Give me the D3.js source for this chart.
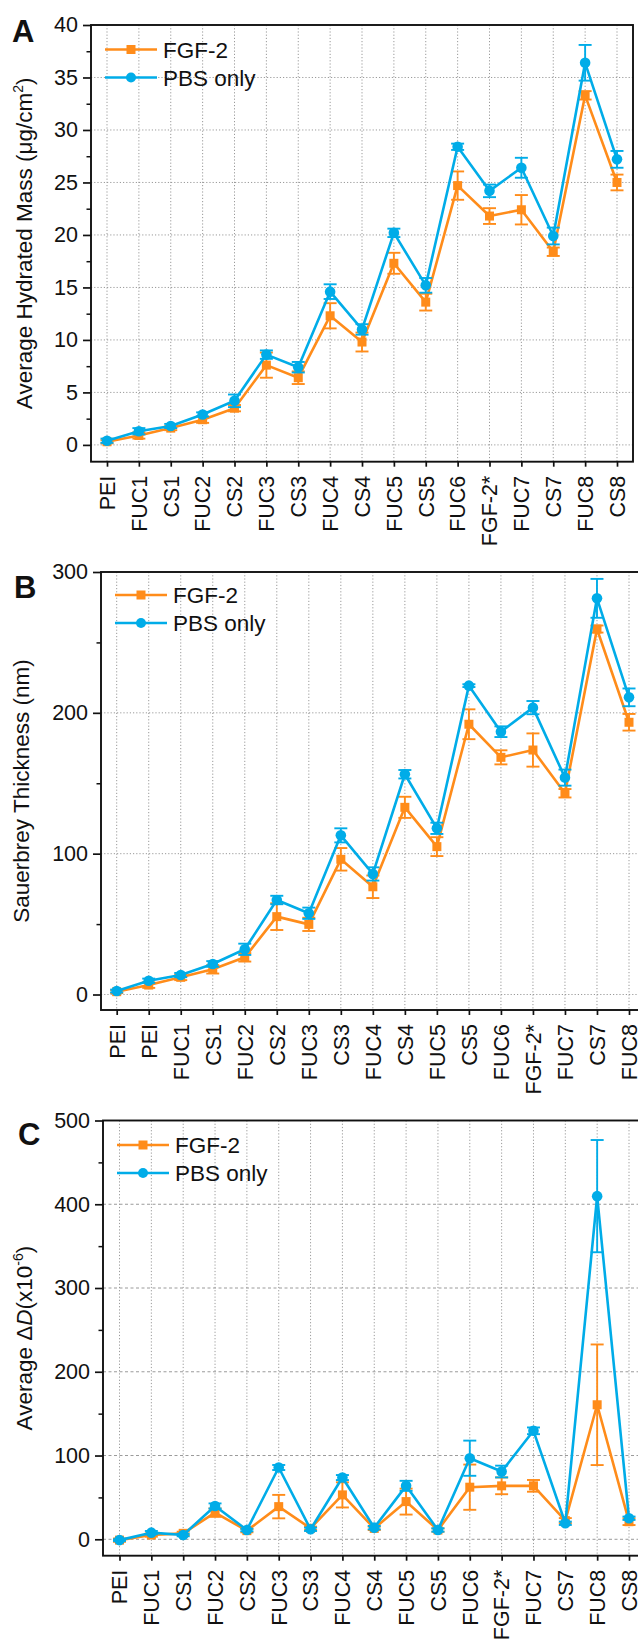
<!DOCTYPE html>
<html>
<head>
<meta charset="utf-8">
<script src="https://cdn.jsdelivr.net/npm/d3@7"></script>
<style>
  html, body { margin: 0; padding: 0; background: #fff; }
  svg { display: block; font-family: "Liberation Sans", Arial, sans-serif; }
</style>
</head>
<body>
<svg id="fig" width="638" height="1640"></svg>
<script>
// ---- categories ----
const layersA = ["PEI","FUC1","CS1","FUC2","CS2","FUC3","CS3","FUC4","CS4","FUC5","CS5","FUC6","FGF-2*","FUC7","CS7","FUC8","CS8"];
const layersB = ["PEI","PEI","FUC1","CS1","FUC2","CS2","FUC3","CS3","FUC4","CS4","FUC5","CS5","FUC6","FGF-2*","FUC7","CS7","FUC8"];
const layersC = ["PEI","FUC1","CS1","FUC2","CS2","FUC3","CS3","FUC4","CS4","FUC5","CS5","FUC6","FGF-2*","FUC7","CS7","FUC8","CS8"];

// ---- A: average hydrated mass (µg/cm²) ----
const massFGF    = [0.3, 0.9, 1.6, 2.4, 3.5, 7.6, 6.4, 12.3, 9.8, 17.3, 13.6, 24.7, 21.8, 22.4, 18.4, 33.3, 25.0];
const massFGFErr = [0.15, 0.3, 0.2, 0.3, 0.3, 1.2, 0.6, 1.2, 0.9, 1.0, 0.8, 1.35, 0.75, 1.4, 0.4, 0.4, 0.75];
const massPBS    = [0.4, 1.3, 1.8, 2.9, 4.2, 8.6, 7.4, 14.6, 11.0, 20.2, 15.2, 28.4, 24.2, 26.4, 19.9, 36.4, 27.2];
const massPBSErr = [0.2, 0.3, 0.2, 0.2, 0.6, 0.4, 0.5, 0.7, 0.5, 0.4, 0.7, 0.3, 0.6, 0.95, 0.8, 1.7, 0.8];
const massTicks  = [0, 5, 10, 15, 20, 25, 30, 35, 40];

// ---- B: Sauerbrey thickness (nm) ----
const thickFGF    = [2, 6.7, 12.2, 17.9, 26.4, 55.3, 49.8, 96, 76.5, 132.9, 105, 191.9, 168.4, 173.6, 142.9, 259.5, 193.3];
const thickFGFErr = [1, 2, 2, 3, 3, 9.5, 4.7, 8, 8, 7.5, 6.7, 10.6, 5, 11.8, 3, 2.5, 5.9];
const thickPBS    = [2.5, 9.8, 13.8, 21.7, 32.1, 67.1, 57.7, 113, 85.6, 156.4, 118, 219.3, 186.6, 203.7, 154, 281.3, 211];
const thickPBSErr = [1, 1.5, 1.5, 2, 4, 3, 4, 5, 4.7, 3, 4, 1, 3.8, 4.7, 5.7, 13.8, 6.3];
const thickTicks  = [0, 100, 200, 300];

// ---- C: average dissipation shift (x10^-6) ----
const dissFGF    = [-1, 5.1, 7.1, 31.8, 10.3, 39, 13.1, 53, 13, 45, 11, 62.2, 63.8, 63.8, 22.3, 160.6, 21];
const dissFGFErr = [2, 2, 2, 5, 2, 14, 2, 15, 2, 15.5, 2, 27, 10, 7, 3, 72, 4];
const dissPBS    = [-1, 7.9, 5.1, 39.8, 11.1, 85.7, 11.9, 73.7, 13.9, 63.8, 11.1, 96.8, 80.9, 129.5, 19.1, 409.7, 25.1];
const dissPBSErr = [1, 2, 1.5, 3, 1.5, 3, 2, 3, 2, 6, 2, 21, 7, 4, 2, 67, 2];
const dissTicks  = [0, 100, 200, 300, 400, 500];

const seriesNames = ["FGF-2", "PBS only"];

const ORANGE = "#FF8C1A";
const BLUE   = "#00ACE8";
const svg = d3.select("#fig");

function panel(o) {
  const g = svg.append("g");
  const x = d3.scalePoint().domain(d3.range(o.cats.length)).range([o.x0, o.x1]);
  const y = d3.scaleLinear().domain(o.yDomain).range([o.bottom, o.top]);

  // gridlines
  g.append("g").selectAll("line").data(o.majors.filter(v => v > o.yDomain[0] && v < o.yDomain[1]))
    .join("line")
    .attr("x1", o.left).attr("x2", o.right)
    .attr("y1", d => y(d)).attr("y2", d => y(d))
    .attr("stroke", "#9a9a9a").attr("stroke-width", 1)
    .attr("stroke-dasharray", o.hDash);
  g.append("g").selectAll("line").data(x.domain())
    .join("line")
    .attr("x1", d => x(d)).attr("x2", d => x(d))
    .attr("y1", o.top).attr("y2", o.bottom)
    .attr("stroke", "#9a9a9a").attr("stroke-width", 1)
    .attr("stroke-dasharray", "1.2,2");

  // frame
  g.append("rect")
    .attr("x", o.left).attr("y", o.top)
    .attr("width", o.right - o.left).attr("height", o.bottom - o.top)
    .attr("fill", "none").attr("stroke", "#111").attr("stroke-width", 1.9);

  // y axis, major + minor ticks
  const minor = [];
  for (let i = 0; i < o.majors.length - 1; i++) minor.push((o.majors[i] + o.majors[i + 1]) / 2);
  const ya = g.append("g").attr("transform", `translate(${o.left},0)`)
    .call(d3.axisLeft(y).tickValues(o.majors).tickSize(8).tickPadding(5).tickFormat(d3.format("d")));
  ya.select(".domain").remove();
  ya.selectAll("line").attr("stroke", "#111").attr("stroke-width", 1.7);
  ya.selectAll("text").attr("font-size", 21.5).attr("fill", "#111");
  const ym = g.append("g").attr("transform", `translate(${o.left},0)`)
    .call(d3.axisLeft(y).tickValues(minor).tickSize(4.5).tickFormat(""));
  ym.select(".domain").remove();
  ym.selectAll("line").attr("stroke", "#111").attr("stroke-width", 1.5);

  // x axis with rotated labels
  const xa = g.append("g").attr("transform", `translate(0,${o.bottom})`)
    .call(d3.axisBottom(x).tickSize(5).tickFormat(i => o.cats[i]));
  xa.select(".domain").remove();
  xa.selectAll("line").attr("stroke", "#111").attr("stroke-width", 1.7);
  xa.selectAll("text")
    .attr("transform", "rotate(-90)")
    .attr("text-anchor", "end")
    .attr("x", -14).attr("y", 0).attr("dy", "0.34em")
    .attr("font-size", 21.5).attr("fill", "#111");

  // y title
  const t = g.append("text")
    .attr("transform", `translate(${o.titleX},${(o.top + o.bottom) / 2}) rotate(-90)`)
    .attr("text-anchor", "middle").attr("font-size", 22.5).attr("fill", "#111");
  o.title(t);

  // panel letter
  g.append("text").attr("x", o.letterX).attr("y", o.letterY)
    .attr("font-size", 31).attr("font-weight", "bold").attr("fill", "#111").text(o.letter);

  // series: FGF-2 underneath, PBS on top
  const series = [
    { vals: o.fgf, err: o.fgfErr, color: ORANGE, shape: "square" },
    { vals: o.pbs, err: o.pbsErr, color: BLUE, shape: "circle" }
  ];
  const line = d3.line().x((d, i) => x(i)).y(d => y(d));
  series.forEach(s => {
    const sg = g.append("g");
    sg.append("path").attr("d", line(s.vals))
      .attr("fill", "none").attr("stroke", s.color).attr("stroke-width", 2.6)
      .attr("stroke-linejoin", "round");
    const eb = sg.append("g").attr("stroke", s.color).attr("stroke-width", 1.9);
    s.vals.forEach((v, i) => {
      const lo = y(v - s.err[i]), hi = y(v + s.err[i]), cx = x(i);
      eb.append("line").attr("x1", cx).attr("x2", cx).attr("y1", lo).attr("y2", hi);
      eb.append("line").attr("x1", cx - 6.5).attr("x2", cx + 6.5).attr("y1", lo).attr("y2", lo);
      eb.append("line").attr("x1", cx - 6.5).attr("x2", cx + 6.5).attr("y1", hi).attr("y2", hi);
    });
    if (s.shape === "square") {
      sg.selectAll("rect.m").data(s.vals).join("rect").attr("class", "m")
        .attr("x", (d, i) => x(i) - 4.5).attr("y", d => y(d) - 4.5)
        .attr("width", 9).attr("height", 9).attr("fill", s.color);
    } else {
      sg.selectAll("circle.m").data(s.vals).join("circle").attr("class", "m")
        .attr("cx", (d, i) => x(i)).attr("cy", d => y(d)).attr("r", 5.3).attr("fill", s.color);
    }
  });

  // legend
  const lg = g.append("g");
  seriesNames.forEach((name, k) => {
    const ly = o.legY + k * 28;
    lg.append("line").attr("x1", o.legX).attr("x2", o.legX + 52).attr("y1", ly).attr("y2", ly)
      .attr("stroke", k ? BLUE : ORANGE).attr("stroke-width", 2.3);
    if (k) lg.append("circle").attr("cx", o.legX + 26).attr("cy", ly).attr("r", 5).attr("fill", BLUE);
    else lg.append("rect").attr("x", o.legX + 21.5).attr("y", ly - 4.5).attr("width", 9).attr("height", 9).attr("fill", ORANGE);
    lg.append("text").attr("x", o.legX + 58).attr("y", ly + 8).attr("font-size", 22.5).attr("fill", "#111").text(name);
  });
}

panel({
  cats: layersA, fgf: massFGF, fgfErr: massFGFErr, pbs: massPBS, pbsErr: massPBSErr,
  majors: massTicks, yDomain: [-1.6, 40],
  left: 91, right: 633, top: 25, bottom: 461.7, x0: 107, x1: 617,
  hDash: "1.2,2", titleX: 32, letter: "A", letterX: 12, letterY: 42,
  legX: 105, legY: 49.5,
  title: t => {
    t.append("tspan").text("Average Hydrated Mass (\u03BCg/cm");
    t.append("tspan").attr("font-size", 14).attr("dy", -9).text("2");
    t.append("tspan").attr("dy", 9).text(")");
  }
});

panel({
  cats: layersB, fgf: thickFGF, fgfErr: thickFGFErr, pbs: thickPBS, pbsErr: thickPBSErr,
  majors: thickTicks, yDomain: [-11, 300],
  left: 101, right: 660, top: 572, bottom: 1010, x0: 116.7, x1: 629,
  hDash: "1.2,2", titleX: 29, letter: "B", letterX: 14, letterY: 598,
  legX: 115, legY: 595,
  title: t => { t.text("Sauerbrey Thickness (nm)"); }
});

panel({
  cats: layersC, fgf: dissFGF, fgfErr: dissFGFErr, pbs: dissPBS, pbsErr: dissPBSErr,
  majors: dissTicks, yDomain: [-19.6, 500],
  left: 103, right: 660, top: 1120.5, bottom: 1555.7, x0: 119.5, x1: 629,
  hDash: "3,2.5", titleX: 32, letter: "C", letterX: 18, letterY: 1145,
  legX: 117, legY: 1145,
  title: t => {
    t.append("tspan").text("Average \u0394");
    t.append("tspan").attr("font-style", "italic").text("D");
    t.append("tspan").text("(x10");
    t.append("tspan").attr("font-size", 14).attr("dy", -9).text("-6");
    t.append("tspan").attr("dy", 9).text(")");
  }
});
</script>
</body>
</html>
